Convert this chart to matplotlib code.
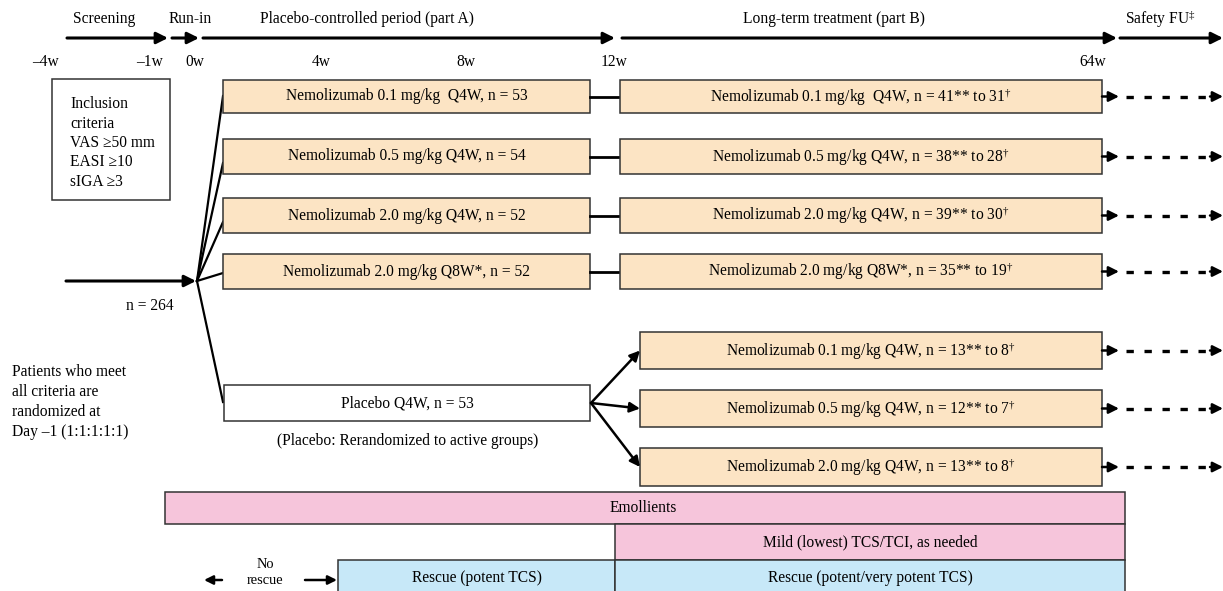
import matplotlib
matplotlib.use("Agg")
import matplotlib.pyplot as plt
from matplotlib.patches import Rectangle

plt.rcParams.update({
    "font.family": ["Liberation Serif", "DejaVu Serif"],
    "mathtext.fontset": "custom",
    "mathtext.rm": "Liberation Serif",
    "mathtext.it": "Liberation Serif",
})

# ---- content -------------------------------------------------------------
phase_labels = ["Screening", "Run-in", "Placebo-controlled period (part A)",
                "Long-term treatment (part B)", "Safety FU$^{\u2021}$"]
week_labels = ["\u20134w", "\u20131w", "0w", "4w", "8w", "12w", "64w"]

arms_a = ["Nemolizumab 0.1 mg/kg  Q4W, n = 53",
          "Nemolizumab 0.5 mg/kg Q4W, n = 54",
          "Nemolizumab 2.0 mg/kg Q4W, n = 52",
          "Nemolizumab 2.0 mg/kg Q8W*, n = 52"]
arms_b = ["Nemolizumab 0.1 mg/kg  Q4W, n = 41** to 31$^{\u2020}$",
          "Nemolizumab 0.5 mg/kg Q4W, n = 38** to 28$^{\u2020}$",
          "Nemolizumab 2.0 mg/kg Q4W, n = 39** to 30$^{\u2020}$",
          "Nemolizumab 2.0 mg/kg Q8W*, n = 35** to 19$^{\u2020}$"]
placebo_arm = "Placebo Q4W, n = 53"
rerand_arms = ["Nemolizumab 0.1 mg/kg Q4W, n = 13** to 8$^{\u2020}$",
               "Nemolizumab 0.5 mg/kg Q4W, n = 12** to 7$^{\u2020}$",
               "Nemolizumab 2.0 mg/kg Q4W, n = 13** to 8$^{\u2020}$"]
inclusion = ["Inclusion", "criteria", "VAS \u226550 mm", "EASI \u226510", "sIGA \u22653"]
patients_note = ["Patients who meet", "all criteria are", "randomized at",
                 "Day \u20131 (1:1:1:1:1)"]
n_total = "n = 264"
rerand_note = "(Placebo: Rerandomized to active groups)"
bottom_bands = ["Emollients", "Mild (lowest) TCS/TCI, as needed",
                "Rescue (potent TCS)", "Rescue (potent/very potent TCS)"]

# ---- layout (pixel coords) -------------------------------------------------
W, H = 1223, 591
FS = 11.2
ORANGE = "#FCE4C4"
PINK = "#F6C5DB"
BLUE = "#C7E8F8"
EDGE = "#333333"

phase_x = [104, 190, 367, 834, 1160]
phase_arrows = [(67, 168), (172, 199), (203, 615), (622, 1117), (1120, 1223)]
week_x = [45, 150, 195, 321, 466, 614, 1093]

rows = [(80, 113), (139, 174), (198, 233), (254, 289)]
fan_end_y = [96, 163, 222, 273]
A_L, A_R = 223, 590
B_L, B_R = 620, 1102
P_TOP, P_BOT = 385, 421
R_L = 640
rerand_rows = [(332, 369), (390, 427), (448, 486)]
origin = (197, 281)


def arrow(ax, x0, y0, x1, y1, lw=2.2, ms=17):
    ax.annotate("", xy=(x1, y1), xytext=(x0, y0),
                arrowprops=dict(arrowstyle="-|>", lw=lw, color="black",
                                shrinkA=0, shrinkB=0, mutation_scale=ms))


def box(ax, x0, x1, y0, y1, fc, text=None, tx=None, ha="center", fs=FS):
    ax.add_patch(Rectangle((x0, y0), x1 - x0, y1 - y0, facecolor=fc,
                           edgecolor=EDGE, lw=1.1, zorder=2))
    if text is not None:
        ax.text((x0 + x1) / 2 if tx is None else tx, (y0 + y1) / 2, text,
                ha=ha, va="center", fontsize=fs, zorder=3)


def fu_arrow(ax, y):
    arrow(ax, B_R, y, 1119, y, lw=1.8, ms=15)
    ax.plot([1126, 1212], [y, y], color="black", lw=2.4,
            dashes=(2.2, 3.2), solid_capstyle="butt")
    arrow(ax, 1210, y, 1223, y, lw=1.8, ms=15)


fig = plt.figure(figsize=(W / 100, H / 100), dpi=100)
ax = fig.add_axes([0, 0, 1, 1])
ax.set_xlim(0, W)
ax.set_ylim(H, 0)
ax.axis("off")

# timeline header
for lbl, x in zip(phase_labels, phase_x):
    ax.text(x, 19, lbl, ha="center", va="center", fontsize=FS)
for x0, x1 in phase_arrows:
    arrow(ax, x0, 38, x1, 38)
for lbl, x in zip(week_labels, week_x):
    ax.text(x, 62, lbl, ha="center", va="center", fontsize=FS)

# inclusion criteria box
ax.add_patch(Rectangle((52, 79), 118, 121, facecolor="white",
                       edgecolor=EDGE, lw=1.1))
for i, line in enumerate(inclusion):
    ax.text(70, 104 + i * 19.5, line, ha="left", va="center", fontsize=FS)

# entry arrow and randomisation fan
arrow(ax, 66, origin[1], origin[0] - 1, origin[1])
ax.text(150, 306, n_total, ha="center", va="center", fontsize=FS)
for i, line in enumerate(patients_note):
    ax.text(12, 372 + i * 20, line, ha="left", va="center", fontsize=FS)

for (top, bot), ye, la, lb in zip(rows, fan_end_y, arms_a, arms_b):
    ax.plot([origin[0], A_L], [origin[1], ye], color="black", lw=1.6,
            zorder=1)
    box(ax, A_L, A_R, top, bot, ORANGE, la)
    ax.plot([A_R, B_L], [(top + bot) / 2] * 2, color="black", lw=2.0)
    box(ax, B_L, B_R, top, bot, ORANGE, lb)
    fu_arrow(ax, (top + bot) / 2)

ax.plot([origin[0], A_L], [origin[1], 402], color="black", lw=1.6, zorder=1)
box(ax, A_L + 1, A_R, P_TOP, P_BOT, "white", placebo_arm)
ax.text(408, 441, rerand_note, ha="center", va="center", fontsize=FS)

p_mid = (P_TOP + P_BOT) / 2
for (top, bot), lbl in zip(rerand_rows, rerand_arms):
    arrow(ax, A_R + 1, p_mid, R_L, (top + bot) / 2, lw=1.8, ms=15)
    box(ax, R_L, B_R, top, bot, ORANGE, lbl)
    fu_arrow(ax, (top + bot) / 2)

# concomitant therapy bands
box(ax, 165, 1125, 492, 524, PINK, bottom_bands[0], tx=610, ha="left")
box(ax, 615, 1125, 524, 560, PINK, bottom_bands[1])
box(ax, 338, 615, 560, 595, BLUE, bottom_bands[2])
box(ax, 615, 1125, 560, 595, BLUE, bottom_bands[3])

ax.text(265, 564, "No", ha="center", va="center", fontsize=FS - 0.8)
ax.text(265, 580, "rescue", ha="center", va="center", fontsize=FS - 0.8)
arrow(ax, 222, 580, 204, 580, lw=1.8, ms=13)
arrow(ax, 305, 580, 337, 580, lw=1.8, ms=13)

fig.savefig("out.png", dpi=100)
